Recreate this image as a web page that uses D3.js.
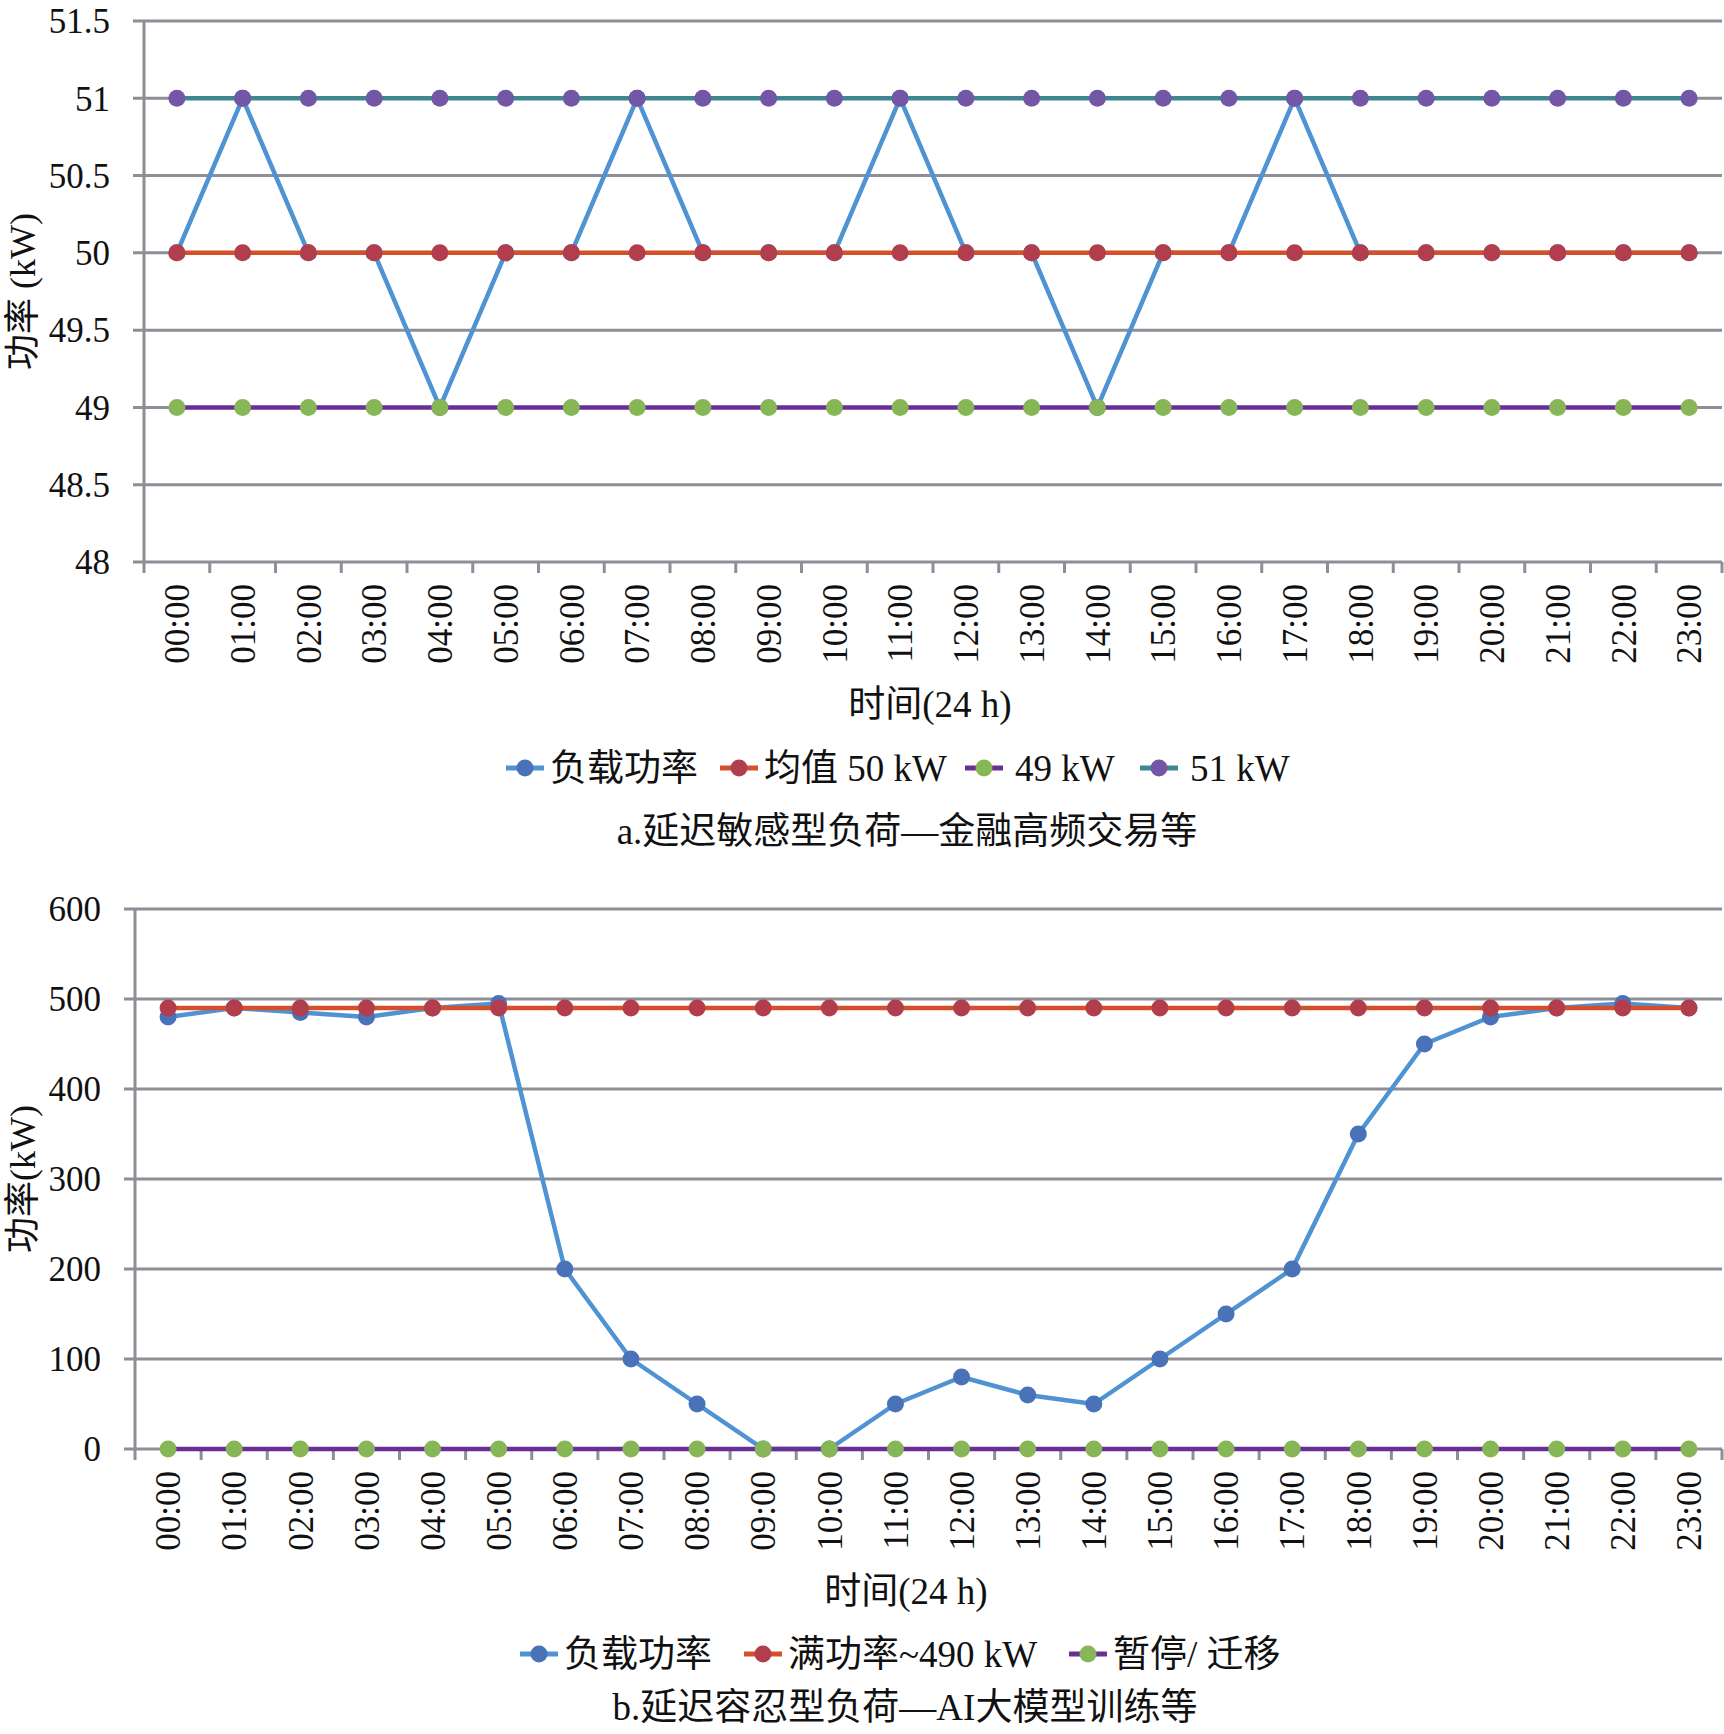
<!DOCTYPE html>
<html>
<head>
<meta charset="utf-8">
<script src="https://cdn.jsdelivr.net/npm/d3@7"></script>
<style>
  body { margin: 0; background: #fff; }
  text { font-family: "Liberation Serif", "Noto Sans CJK SC", serif; fill: #111; }
</style>
</head>
<body>
<div class="chart"></div>
<script>
// ---- data ----
var hours = ["00:00","01:00","02:00","03:00","04:00","05:00","06:00","07:00","08:00","09:00","10:00","11:00",
             "12:00","13:00","14:00","15:00","16:00","17:00","18:00","19:00","20:00","21:00","22:00","23:00"];

// chart a: latency-sensitive load
var loadA = [50,51,50,50,49,50,50,51,50,50,50,51,50,50,49,50,50,51,50,50,50,50,50,50];
var meanA = [50,50,50,50,50,50,50,50,50,50,50,50,50,50,50,50,50,50,50,50,50,50,50,50];
var low49 = [49,49,49,49,49,49,49,49,49,49,49,49,49,49,49,49,49,49,49,49,49,49,49,49];
var high51 = [51,51,51,51,51,51,51,51,51,51,51,51,51,51,51,51,51,51,51,51,51,51,51,51];
var yTicksA = [48,48.5,49,49.5,50,50.5,51,51.5];

// chart b: latency-tolerant load
var loadB = [480,490,485,480,490,495,200,100,50,0,0,50,80,60,50,100,150,200,350,450,480,490,495,490];
var fullB = [490,490,490,490,490,490,490,490,490,490,490,490,490,490,490,490,490,490,490,490,490,490,490,490];
var pauseB = [0,0,0,0,0,0,0,0,0,0,0,0,0,0,0,0,0,0,0,0,0,0,0,0];
var yTicksB = [0,100,200,300,400,500,600];

var namesA = ["负载功率", "均值 50 kW", "49 kW", "51 kW"];
var namesB = ["负载功率", "满功率~490 kW", "暂停/ 迁移"];

var colors = {
  load:  {line: "#4f93d3", dot: "#4a72b8"},
  mean:  {line: "#d5502a", dot: "#b23e4d"},
  low:   {line: "#6a2e96", dot: "#86b655"},
  high:  {line: "#3f8690", dot: "#7356a5"}
};

var W = 1724, H = 1734;
var svg = d3.select(".chart").append("svg")
  .attr("width", W).attr("height", H);

svg.append("rect").attr("width", W).attr("height", H).attr("fill", "#fff");

function drawChart(c) {
  var g = svg.append("g");

  var x = d3.scaleBand().domain(hours).range([c.left, c.right]).padding(0);
  var y = d3.scaleLinear().domain(c.yDomain).range([c.bottom, c.top]);
  var bw = x.bandwidth();

  // gridlines + y ticks
  g.selectAll(".grid").data(c.yTicks).enter().append("line")
    .attr("x1", c.left - 11).attr("x2", c.right)
    .attr("y1", function(d){ return y(d); })
    .attr("y2", function(d){ return y(d); })
    .attr("stroke", "#8e8e96").attr("stroke-width", 3);

  g.selectAll(".ylab").data(c.yTicks).enter().append("text")
    .attr("x", c.left - 34)
    .attr("y", function(d){ return y(d); })
    .attr("dy", "0.35em")
    .attr("text-anchor", "end")
    .style("font-size", "35px")
    .text(function(d){ return d3.format("")(d); });

  // y axis line
  g.append("line")
    .attr("x1", c.left).attr("x2", c.left)
    .attr("y1", c.top).attr("y2", c.bottom + 11)
    .attr("stroke", "#8e8e96").attr("stroke-width", 3);

  // x tick marks at band edges
  var edges = hours.map(function(h){ return x(h); }).concat([c.right]);
  g.selectAll(".xt").data(edges.slice(1)).enter().append("line")
    .attr("x1", function(d){ return d; }).attr("x2", function(d){ return d; })
    .attr("y1", c.bottom).attr("y2", c.bottom + 11)
    .attr("stroke", "#8e8e96").attr("stroke-width", 3);

  // x labels (rotated)
  g.selectAll(".xlab").data(hours).enter().append("text")
    .attr("transform", function(d){
      return "translate(" + (x(d) + bw / 2) + "," + (c.bottom + 22) + ") rotate(-90)";
    })
    .attr("dy", "0.35em")
    .attr("text-anchor", "end")
    .style("font-size", "35px")
    .text(function(d){ return d; });

  // series
  var line = d3.line()
    .x(function(d, i){ return x(hours[i]) + bw / 2; })
    .y(function(d){ return y(d); });

  c.series.forEach(function(s){
    g.append("path")
      .attr("d", line(s.values))
      .attr("fill", "none")
      .attr("stroke", s.color.line)
      .attr("stroke-width", 4.5)
      .attr("stroke-linejoin", "round");
    g.selectAll(null).data(s.values).enter().append("circle")
      .attr("cx", function(d, i){ return x(hours[i]) + bw / 2; })
      .attr("cy", function(d){ return y(d); })
      .attr("r", 8.5)
      .attr("fill", s.color.dot);
  });

  // axis titles
  g.append("text")
    .attr("transform", "translate(" + c.yTitleX + "," + ((c.top + c.bottom) / 2) + ") rotate(-90)")
    .attr("dy", "0.35em")
    .attr("text-anchor", "middle")
    .style("font-size", "36px")
    .text(c.yTitle);

  g.append("text")
    .attr("x", c.xTitleX).attr("y", c.xTitleY)
    .attr("dy", "0.35em")
    .attr("text-anchor", "middle")
    .style("font-size", "37px")
    .text("时间(24 h)");

  // legend
  var lg = g.append("g");
  c.legend.forEach(function(it, i){
    var s = c.series[i];
    var item = lg.append("g").attr("transform", "translate(" + it + "," + c.legendY + ")");
    item.append("line")
      .attr("x1", 0).attr("x2", 38)
      .attr("stroke", s.color.line).attr("stroke-width", 5);
    item.append("circle").attr("cx", 19).attr("r", 8.5).attr("fill", s.color.dot);
    item.append("text")
      .attr("x", /^\d/.test(s.name) ? 50 : 44).attr("dy", "0.35em")
      .style("font-size", "37px")
      .text(s.name);
  });

  g.append("text")
    .attr("x", c.captionX).attr("y", c.captionY)
    .attr("dy", "0.35em")
    .attr("text-anchor", "middle")
    .style("font-size", "37px")
    .text(c.caption);
}

drawChart({
  left: 144, right: 1722, top: 21, bottom: 562,
  yDomain: [48, 51.5], yTicks: yTicksA,
  yTitle: "功率 (kW)", yTitleX: 22,
  xTitleX: 930, xTitleY: 704,
  legendY: 768, legend: [506, 720, 965, 1140],
  captionX: 907, captionY: 831,
  caption: "a.延迟敏感型负荷—金融高频交易等",
  series: [
    {name: namesA[0], values: loadA, color: colors.load},
    {name: namesA[1], values: meanA, color: colors.mean},
    {name: namesA[2], values: low49, color: colors.low},
    {name: namesA[3], values: high51, color: colors.high}
  ]
});

drawChart({
  left: 135, right: 1722, top: 909, bottom: 1449,
  yDomain: [0, 600], yTicks: yTicksB,
  yTitle: "功率(kW)", yTitleX: 22,
  xTitleX: 906, xTitleY: 1591,
  legendY: 1654, legend: [520, 744, 1069],
  captionX: 905, captionY: 1707,
  caption: "b.延迟容忍型负荷—AI大模型训练等",
  series: [
    {name: namesB[0], values: loadB, color: colors.load},
    {name: namesB[1], values: fullB, color: colors.mean},
    {name: namesB[2], values: pauseB, color: colors.low}
  ]
});
</script>
</body>
</html>
